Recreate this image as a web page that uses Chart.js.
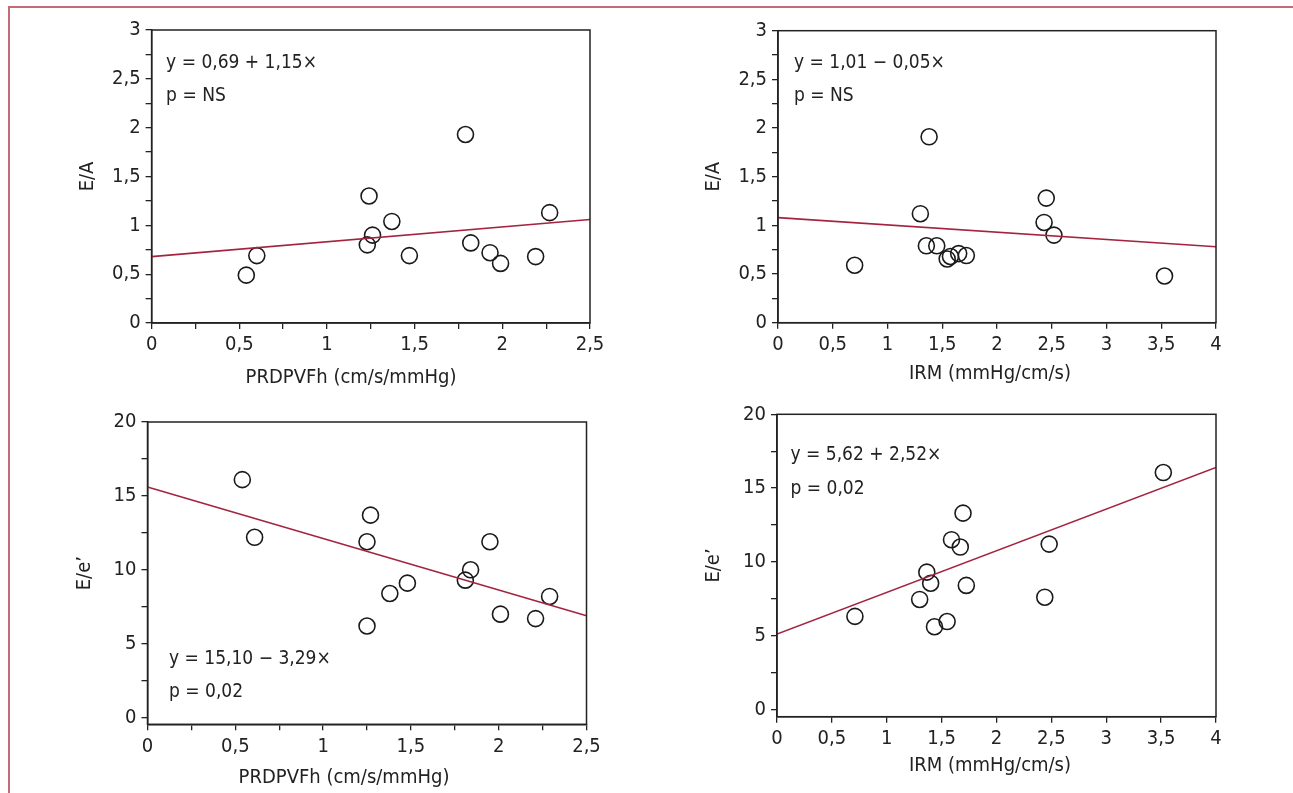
<!DOCTYPE html>
<html>
<head>
<meta charset="utf-8">
<title>E/A and E/e' vs PRDPVFh and IRM</title>
<script src="https://cdn.jsdelivr.net/npm/chart.js@4.4.0/dist/chart.umd.min.js"></script>
<style>
    html, body { margin: 0; padding: 0; background: #fff; }
    #page { position: relative; width: 1293px; height: 793px; overflow: hidden; }
    #frame {
        position: absolute; left: 8px; top: 6px; right: -10px; bottom: -10px;
        border-top: 2px solid #c46b78; border-left: 2px solid #c46b78;
    }
    canvas { position: absolute; left: 0; top: 0; }
</style>
</head>
<body>
<div id="page">
    <div id="frame"></div>
    <canvas id="c1" width="1293" height="793"></canvas>
    <canvas id="c2" width="1293" height="793"></canvas>
    <canvas id="c3" width="1293" height="793"></canvas>
    <canvas id="c4" width="1293" height="793"></canvas>
</div>
<script>
/* ---------------------------------------------------------------
   Data
   --------------------------------------------------------------- */

// top left: E/A vs PRDPVFh
const prdForEA = [0.54, 0.60, 1.24, 1.23, 1.26, 1.37, 1.47, 1.79, 1.82, 1.93, 1.99, 2.19, 2.27];
const eaByPrd  = [0.49, 0.69, 1.30, 0.80, 0.90, 1.04, 0.69, 1.93, 0.82, 0.72, 0.61, 0.68, 1.13];
const eaPrdFit = [0.68, 1.06];          // regression line at x = 0 and x = 2,5

// top right: E/A vs IRM
const irmForEA = [0.70, 1.38, 1.30, 1.355, 1.45, 1.545, 1.575, 1.65, 1.72, 2.45, 2.43, 2.52, 3.53];
const eaByIrm  = [0.59, 1.91, 1.12, 0.79, 0.79, 0.655, 0.68, 0.71, 0.69, 1.28, 1.03, 0.90, 0.48];
const eaIrmFit = [1.08, 0.78];          // x = 0 and x = 4

// bottom left: E/e' vs PRDPVFh
const prdForEE = [0.54, 0.61, 1.25, 1.27, 1.25, 1.38, 1.48, 1.81, 1.84, 1.95, 2.01, 2.21, 2.29];
const eeByPrd  = [16.1, 12.2, 11.9, 13.7, 6.2, 8.4, 9.1, 9.3, 10.0, 11.9, 7.0, 6.7, 8.2];
const eePrdFit = [15.6, 6.9];           // x = 0 and x = 2,5

// bottom right: E/e' vs IRM
const irmForEE = [0.71, 1.30, 1.365, 1.40, 1.435, 1.55, 1.59, 1.67, 1.695, 1.725, 2.44, 2.48, 3.52];
const eeByIrm  = [6.3, 7.45, 9.3, 8.55, 5.6, 5.95, 11.5, 11.0, 13.3, 8.4, 7.6, 11.2, 16.05];
const eeIrmFit = [5.1, 16.4];           // x = 0 and x = 4

// tick labels
const prdTicks = ['0', '0,5', '1', '1,5', '2', '2,5'];
const irmTicks = ['0', '0,5', '1', '1,5', '2', '2,5', '3', '3,5', '4'];
const eaTicks  = ['0', '0,5', '1', '1,5', '2', '2,5', '3'];
const eeTicks  = ['0', '5', '10', '15', '20'];

// texts
const prdTitle = 'PRDPVFh (cm/s/mmHg)';
const irmTitle = 'IRM (mmHg/cm/s)';
const eaTitle  = 'E/A';
const eeTitle  = 'E/e\u2019';
const noteEAprd = ['y = 0,69 + 1,15\u00d7', 'p = NS'];
const noteEAirm = ['y = 1,01 \u2212 0,05\u00d7', 'p = NS'];
const noteEEprd = ['y = 15,10 \u2212 3,29\u00d7', 'p = 0,02'];
const noteEEirm = ['y = 5,62 + 2,52\u00d7', 'p = 0,02'];

/* --------------------------------------------------------------- */

const FONT = "'Liberation Sans Narrow', 'Arial Narrow', 'DejaVu Sans Condensed', sans-serif";
const FS = 20;          // ticks and axis titles
const NOTE_FS = 19;     // equation / p value
const INK = '#222';
const FIT_RED = '#a4243f';
const W = 1293, H = 793;

Chart.defaults.font.family = FONT;
Chart.defaults.font.size = FS;
Chart.defaults.color = INK;

// major ticks from the label list, plus an unlabelled tick halfway when asked
const tickSet = (labels, minor) => {
    const major = labels.map(l => parseFloat(l.replace(',', '.')));
    const values = [];
    major.forEach((v, i) => {
        values.push(v);
        if (minor && i < major.length - 1) values.push((v + major[i + 1]) / 2);
    });
    const names = new Map(major.map((v, i) => [v.toFixed(3), labels[i]]));
    return { values, names, max: major[major.length - 1] };
};

// closed frame around the plotting area
const boxPlugin = {
    id: 'box',
    afterDatasetsDraw(chart) {
        const { ctx, chartArea: a } = chart;
        ctx.save();
        ctx.strokeStyle = INK;
        ctx.lineWidth = 1.5;
        ctx.strokeRect(a.left, a.top, a.right - a.left, a.bottom - a.top);
        ctx.restore();
    }
};

// regression equation, p value and the x axis caption
const notePlugin = {
    id: 'notes',
    afterDraw(chart, args, opts) {
        const { ctx, chartArea: a } = chart;
        ctx.save();
        ctx.fillStyle = INK;
        ctx.textBaseline = 'middle';
        ctx.font = NOTE_FS + 'px ' + FONT;
        ctx.textAlign = 'left';
        opts.lines.forEach((t, i) => ctx.fillText(t, a.left + opts.dx, a.top + opts.dy[i]));
        // the original centres the caption a little left of the plot centre
        ctx.font = FS + 'px ' + FONT;
        ctx.textAlign = 'center';
        ctx.fillText(opts.caption, opts.captionAt[0], opts.captionAt[1]);
        ctx.restore();
    }
};

const axis = (t, min, title, size, isX) => ({
    type: 'linear',
    position: isX ? 'bottom' : 'left',
    min: min,
    max: t.max,
    grid: { display: true, drawOnChartArea: false, drawTicks: true, tickLength: 6, color: INK, lineWidth: 1.3 },
    border: { display: true, color: INK, width: 1.5 },
    ticks: {
        autoSkip: false,
        maxRotation: 0,
        padding: isX ? 4 : 5,
        color: INK,
        callback: v => t.names.get(Number(v).toFixed(3)) ?? ''
    },
    title: { display: !isX, text: title, padding: 0, color: INK, font: { size: FS } },
    afterBuildTicks: s => { s.ticks = t.values.map(v => ({ value: v })); },
    afterFit: s => { if (isX) s.height = size; else s.width = size; }
});

const makePanel = (p) => {
    const off = FS * 1.2 / 2;
    const scaleLeft = p.yTitleX - off;
    const scaleBottom = p.area.bottom + 60;
    const xt = tickSet(p.xLabels, p.xMinor);
    const yt = tickSet(p.yLabels, true);
    p.note.caption = p.xTitle;
    p.note.captionAt = p.xTitleAt;

    new Chart(document.getElementById(p.id), {
        type: 'scatter',
        data: {
            datasets: [{
                type: 'line',
                data: [{ x: 0, y: p.fit[0] }, { x: xt.max, y: p.fit[1] }],
                borderColor: FIT_RED,
                borderWidth: 1.6,
                pointRadius: 0,
                fill: false
            }, {
                type: 'scatter',
                data: p.xs.map((x, i) => ({ x: x, y: p.ys[i] })),
                pointStyle: 'circle',
                pointRadius: 8,
                borderWidth: 1.6,
                borderColor: '#1a1a1a',
                backgroundColor: 'rgba(0,0,0,0)'
            }]
        },
        options: {
            responsive: false,
            animation: false,
            events: [],
            layout: {
                padding: { left: scaleLeft, top: p.area.top, right: W - p.area.right, bottom: H - scaleBottom }
            },
            plugins: {
                legend: { display: false },
                tooltip: { enabled: false },
                notes: p.note
            },
            scales: {
                x: axis(xt, 0, p.xTitle, scaleBottom - p.area.bottom, true),
                y: axis(yt, p.yMin, p.yTitle, p.area.left - scaleLeft, false)
            }
        },
        plugins: [boxPlugin, notePlugin]
    });
};

makePanel({
    id: 'c1', xs: prdForEA, ys: eaByPrd, fit: eaPrdFit,
    xLabels: prdTicks, xMinor: true, yLabels: eaTicks, yMin: 0,
    xTitle: prdTitle, yTitle: eaTitle,
    area: { left: 151.6, right: 590, top: 30, bottom: 323 },
    yTitleX: 88, xTitleAt: [351, 378],
    note: { lines: noteEAprd, dx: 14.5, dy: [33, 66] }
});

makePanel({
    id: 'c2', xs: irmForEA, ys: eaByIrm, fit: eaIrmFit,
    xLabels: irmTicks, xMinor: false, yLabels: eaTicks, yMin: 0,
    xTitle: irmTitle, yTitle: eaTitle,
    area: { left: 778, right: 1216, top: 30.7, bottom: 322.7 },
    yTitleX: 714, xTitleAt: [990, 374],
    note: { lines: noteEAirm, dx: 16, dy: [32.5, 65.5] }
});

makePanel({
    id: 'c3', xs: prdForEE, ys: eeByPrd, fit: eePrdFit,
    xLabels: prdTicks, xMinor: true, yLabels: eeTicks, yMin: -0.45,
    xTitle: prdTitle, yTitle: eeTitle,
    area: { left: 147.5, right: 586.5, top: 422, bottom: 724.3 },
    yTitleX: 84.5, xTitleAt: [344, 778],
    note: { lines: noteEEprd, dx: 21.5, dy: [237.5, 270] }
});

makePanel({
    id: 'c4', xs: irmForEE, ys: eeByIrm, fit: eeIrmFit,
    xLabels: irmTicks, xMinor: false, yLabels: eeTicks, yMin: -0.5,
    xTitle: irmTitle, yTitle: eeTitle,
    area: { left: 777, right: 1216, top: 414.3, bottom: 716.7 },
    yTitleX: 714, xTitleAt: [990, 766],
    note: { lines: noteEEirm, dx: 13.5, dy: [41, 74.5] }
});
</script>
</body>
</html>
